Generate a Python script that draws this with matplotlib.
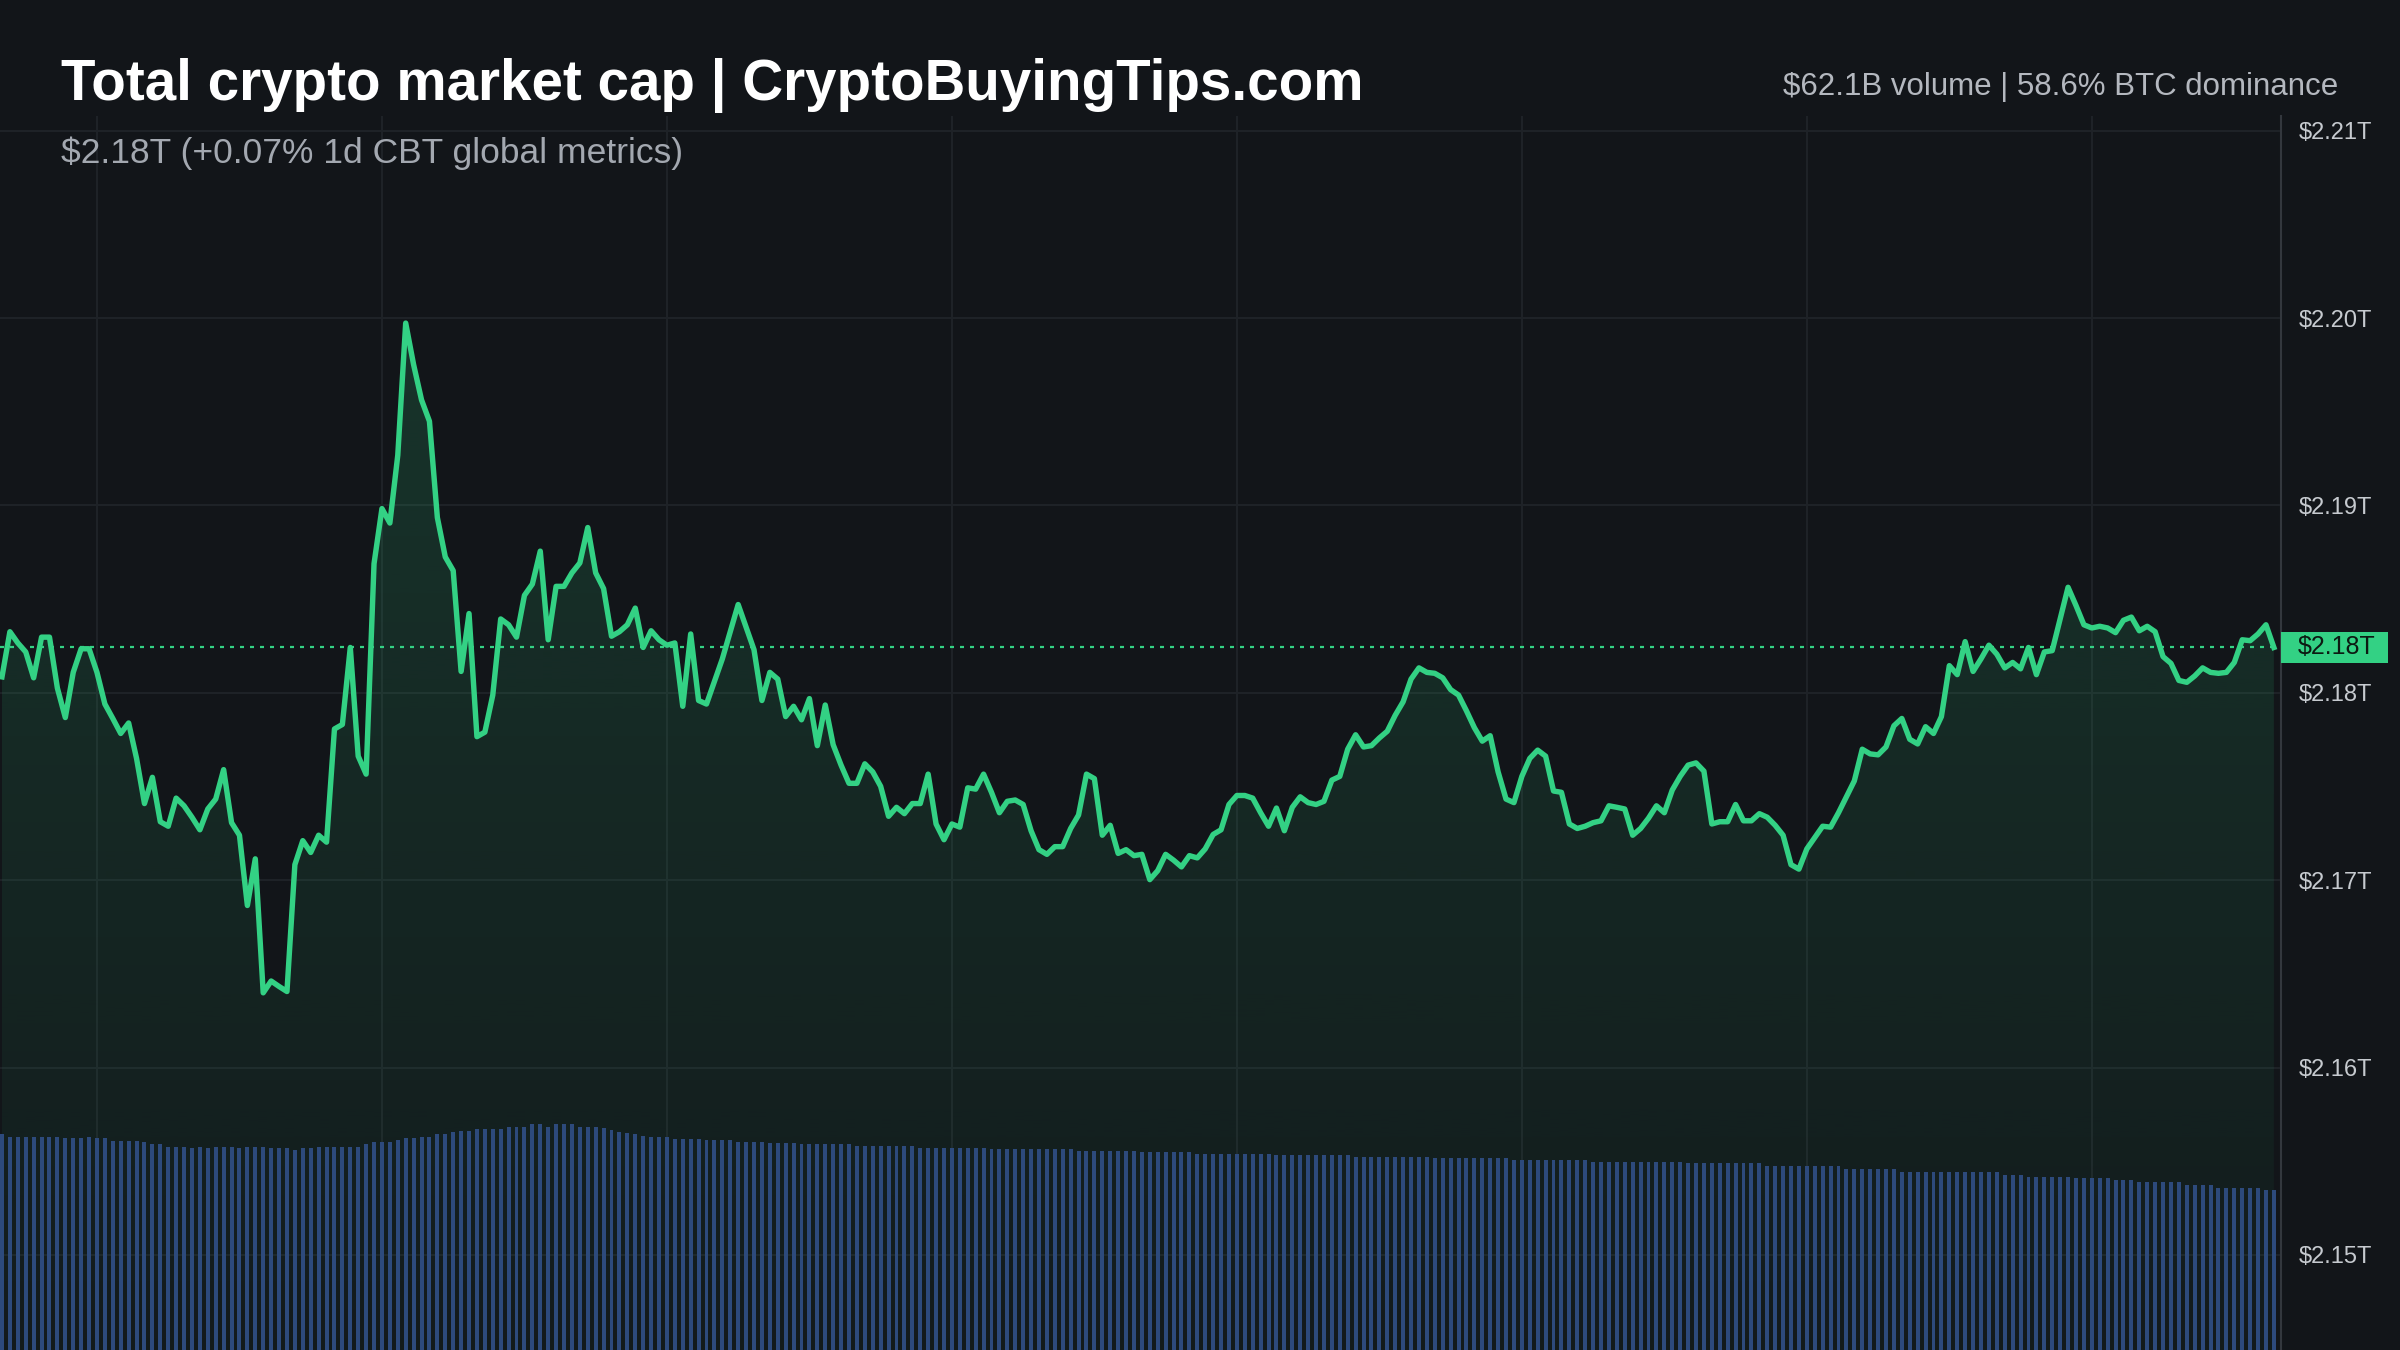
import matplotlib.pyplot as plt
import matplotlib.colors as mcolors
import matplotlib.patches as mpatches
from matplotlib.transforms import blended_transform_factory
import numpy as np

plt.rcParams['font.family'] = ['Liberation Sans', 'DejaVu Sans']

# total market cap in $B, one value per 5 minutes over the last day
cap_b = [
    2180.85, 2183.26, 2182.66, 2182.18, 2180.80, 2182.97, 2182.97, 2180.25, 2178.68, 2181.09, 2182.35, 2182.35,
    2181.09, 2179.40, 2178.63, 2177.83, 2178.39, 2176.50, 2174.09, 2175.49, 2173.12, 2172.88, 2174.38, 2173.97,
    2173.36, 2172.69, 2173.80, 2174.33, 2175.90, 2173.07, 2172.40, 2168.65, 2171.14, 2163.99, 2164.62, 2164.33,
    2164.06, 2170.83, 2172.11, 2171.48, 2172.40, 2172.03, 2178.07, 2178.31, 2182.42, 2176.62, 2175.66, 2186.89,
    2189.83, 2189.06, 2192.68, 2199.73, 2197.51, 2195.63, 2194.49, 2189.35, 2187.25, 2186.52, 2181.14, 2184.23,
    2177.66, 2177.90, 2179.88, 2183.94, 2183.63, 2182.97, 2185.20, 2185.80, 2187.56, 2182.83, 2185.68, 2185.68,
    2186.40, 2186.93, 2188.82, 2186.40, 2185.56, 2183.02, 2183.26, 2183.63, 2184.52, 2182.42, 2183.31, 2182.83,
    2182.54, 2182.66, 2179.28, 2183.14, 2179.59, 2179.40, 2180.61, 2181.81, 2183.26, 2184.71, 2183.50, 2182.30,
    2179.59, 2181.09, 2180.73, 2178.73, 2179.28, 2178.56, 2179.69, 2177.18, 2179.35, 2177.23, 2176.14, 2175.17,
    2175.17, 2176.21, 2175.78, 2175.01, 2173.41, 2173.89, 2173.55, 2174.09, 2174.09, 2175.66, 2173.00, 2172.16,
    2173.00, 2172.83, 2174.93, 2174.86, 2175.66, 2174.69, 2173.60, 2174.21, 2174.28, 2174.04, 2172.64, 2171.63,
    2171.38, 2171.79, 2171.79, 2172.76, 2173.48, 2175.66, 2175.42, 2172.40, 2172.93, 2171.43, 2171.63, 2171.31,
    2171.38, 2170.03, 2170.51, 2171.38, 2171.07, 2170.71, 2171.31, 2171.19, 2171.67, 2172.44, 2172.69, 2174.04,
    2174.52, 2174.52, 2174.38, 2173.60, 2172.88, 2173.85, 2172.64, 2173.89, 2174.45, 2174.14, 2174.04, 2174.21,
    2175.34, 2175.54, 2176.99, 2177.76, 2177.11, 2177.18, 2177.59, 2177.95, 2178.80, 2179.52, 2180.73, 2181.33,
    2181.09, 2181.04, 2180.80, 2180.17, 2179.88, 2179.04, 2178.14, 2177.42, 2177.71, 2175.78, 2174.33, 2174.14,
    2175.54, 2176.50, 2176.94, 2176.62, 2174.76, 2174.69, 2173.00, 2172.76, 2172.88, 2173.07, 2173.17, 2173.97,
    2173.89, 2173.80, 2172.40, 2172.76, 2173.31, 2173.97, 2173.60, 2174.81, 2175.54, 2176.14, 2176.26, 2175.82,
    2173.00, 2173.12, 2173.12, 2174.04, 2173.17, 2173.17, 2173.55, 2173.36, 2172.93, 2172.40, 2170.83, 2170.59,
    2171.67, 2172.28, 2172.88, 2172.83, 2173.60, 2174.45, 2175.30, 2176.99, 2176.74, 2176.69, 2177.11, 2178.24,
    2178.63, 2177.52, 2177.27, 2178.19, 2177.83, 2178.73, 2181.45, 2180.97, 2182.73, 2181.14, 2181.81, 2182.54,
    2182.06, 2181.33, 2181.62, 2181.28, 2182.42, 2180.97, 2182.18, 2182.25, 2183.94, 2185.63, 2184.66, 2183.63,
    2183.46, 2183.55, 2183.46, 2183.21, 2183.87, 2184.04, 2183.31, 2183.55, 2183.26, 2181.93, 2181.57, 2180.66,
    2180.56, 2180.90, 2181.33, 2181.09, 2181.04, 2181.09, 2181.62, 2182.83, 2182.78, 2183.14, 2183.63, 2182.42,
]

# rolling 24h volume in $B for the same steps
vol_b = [
    83.8, 82.8, 82.8, 82.8, 82.8, 82.8, 82.8, 82.8, 82.2, 82.2, 82.2, 82.8,
    82.2, 82.2, 81.2, 81.2, 81.2, 81.2, 80.7, 79.9, 79.9, 78.9, 78.9, 78.9,
    78.4, 78.9, 78.4, 78.9, 78.9, 78.9, 78.4, 78.9, 78.9, 78.9, 78.4, 78.4,
    78.4, 77.6, 78.4, 78.4, 78.9, 78.9, 78.9, 78.9, 78.9, 78.9, 79.8, 80.7,
    80.7, 80.7, 81.5, 82.2, 82.2, 82.8, 82.8, 83.8, 83.8, 84.5, 85.1, 85.1,
    85.9, 85.9, 85.9, 85.9, 86.7, 86.7, 86.7, 87.6, 87.6, 86.7, 87.6, 87.6,
    87.6, 86.7, 86.7, 86.7, 86.1, 85.4, 84.6, 84.2, 83.8, 83.0, 82.6, 82.6,
    82.6, 82.0, 82.0, 82.0, 82.0, 81.5, 81.5, 81.5, 81.5, 80.7, 80.7, 80.7,
    80.7, 80.3, 80.3, 80.3, 80.3, 79.9, 79.9, 79.9, 79.9, 79.9, 79.9, 79.9,
    79.2, 79.2, 79.2, 79.2, 79.2, 79.2, 79.2, 79.2, 78.4, 78.4, 78.4, 78.4,
    78.4, 78.4, 78.4, 78.4, 78.4, 78.0, 78.0, 78.0, 78.0, 78.0, 78.0, 78.0,
    78.0, 78.0, 78.0, 78.0, 77.2, 77.2, 77.2, 77.2, 77.2, 77.2, 77.2, 77.2,
    76.8, 76.8, 76.8, 76.8, 76.8, 76.8, 76.8, 76.1, 76.1, 76.1, 76.1, 76.1,
    76.1, 76.1, 76.1, 76.1, 76.1, 75.7, 75.7, 75.7, 75.7, 75.7, 75.7, 75.7,
    75.7, 75.7, 75.7, 74.9, 74.9, 74.9, 74.9, 74.9, 74.9, 74.9, 74.9, 74.9,
    74.9, 74.5, 74.5, 74.5, 74.5, 74.5, 74.5, 74.5, 74.5, 74.5, 74.5, 73.7,
    73.7, 73.7, 73.7, 73.7, 73.7, 73.7, 73.7, 73.7, 73.7, 73.0, 73.0, 73.0,
    73.0, 73.0, 73.0, 73.0, 73.0, 73.0, 73.0, 73.0, 73.0, 72.6, 72.6, 72.6,
    72.6, 72.6, 72.6, 72.6, 72.6, 72.6, 72.6, 71.4, 71.4, 71.4, 71.4, 71.4,
    71.4, 71.4, 71.4, 71.4, 71.4, 70.2, 70.2, 70.2, 70.2, 70.2, 70.2, 70.2,
    69.2, 69.2, 69.2, 69.2, 69.2, 69.2, 69.2, 69.2, 69.2, 69.2, 69.2, 69.2,
    69.2, 67.9, 67.9, 67.9, 67.2, 67.2, 67.2, 67.2, 67.2, 67.2, 66.6, 66.6,
    66.6, 66.6, 66.6, 66.0, 66.0, 66.0, 65.1, 65.1, 65.1, 65.1, 65.1, 65.1,
    63.9, 63.9, 63.9, 63.9, 62.7, 62.7, 62.7, 62.7, 62.7, 62.7, 62.1, 62.1,
]

steps = np.arange(len(cap_b))
grid_steps = [12, 48, 84, 120, 156, 192, 228, 264]   # every 3 hours
y_ticks = [2150, 2160, 2170, 2180, 2190, 2200, 2210]
y_labels = ['$2.15T', '$2.16T', '$2.17T', '$2.18T', '$2.19T', '$2.20T', '$2.21T']
last_label = '$2.18T'

title = 'Total crypto market cap | CryptoBuyingTips.com'
subtitle = '$2.18T (+0.07% 1d CBT global metrics)'
stats = '$62.1B volume | 58.6% BTC dominance'

bg = '#121519'
green = '#33d184'
blue = '#2d4a7c'
W, H = 2400, 1350

fig = plt.figure(figsize=(24, 13.5), dpi=100, facecolor=bg)
ax = fig.add_axes([0, 0, 2281 / W, 1234 / H])
ax.set_facecolor(bg)

xmin, xmax = -0.25, 287.9
ymin, ymax = 2144.93, 2210.78

# volume bars on their own scale (twin made first, then price ticks go right)
ax2 = ax.twinx()
ax2.bar(steps, vol_b, width=0.5, color=blue, lw=0)
ax2.set_ylim(0, 478.9)
ax2.set_xlim(xmin, xmax)
ax2.set_axis_off()

# gradient under the line
fill = ax.fill_between(steps, cap_b, ymin, color='none', lw=0)
alpha = np.linspace(0.17, 0.03, 256)
rgba = np.zeros((256, 1, 4))
rgba[..., :3] = mcolors.to_rgb(green)
rgba[..., 0, 3] = alpha
im = ax.imshow(rgba, extent=[xmin, xmax, ymin, max(cap_b)], aspect='auto',
               origin='upper', zorder=1, interpolation='bilinear')
im.set_clip_path(fill.get_paths()[0], transform=ax.transData)

ax.plot(steps, cap_b, color=green, lw=3.9, solid_joinstyle='round', zorder=3)
ax.axhline(cap_b[-1], color=green, lw=1.6, ls=(0, (1.8, 2.7)), zorder=2)

ax.set_xlim(xmin, xmax)
ax.set_ylim(ymin, ymax)
ax.set_xticks(grid_steps)
ax.set_yticks(y_ticks, y_labels)
ax.yaxis.tick_right()
ax.yaxis.set_label_position('right')
ax.tick_params(axis='x', length=0, labelbottom=False)
ax.tick_params(axis='y', length=0, pad=13, labelsize=17, labelcolor='#c6cacf',
               labelleft=False, labelright=True)
ax.grid(color='#1f2328', lw=1.4, zorder=0)
ax.set_axisbelow(True)
for side in ['top', 'left', 'bottom']:
    ax.spines[side].set_visible(False)
ax.spines['right'].set_color('#33373d')
ax.spines['right'].set_linewidth(1.5)

# last price badge
tr = blended_transform_factory(ax.transAxes, ax.transData)
ax.add_patch(mpatches.Rectangle((1.0, cap_b[-1] - 0.85), 107 / 2281, 1.7, transform=tr,
                                facecolor=green, edgecolor='none', clip_on=False, zorder=5))
ax.text(1.0 + 17 / 2281, cap_b[-1], last_label, transform=tr, ha='left', va='center',
        fontsize=18, color='#0c1a12', zorder=6, clip_on=False)

fig.text(61 / W, 1 - 100 / H, title, fontsize=40.7, fontweight='bold', color='white', va='baseline')
fig.text(61 / W, 1 - 163 / H, subtitle, fontsize=25.5, color='#a3a8b0', va='baseline')
fig.text(2338 / W, 1 - 95 / H, stats, fontsize=22.5, color='#b4b8bf', ha='right', va='baseline')

fig.savefig('out.png', dpi=100, facecolor=bg)
